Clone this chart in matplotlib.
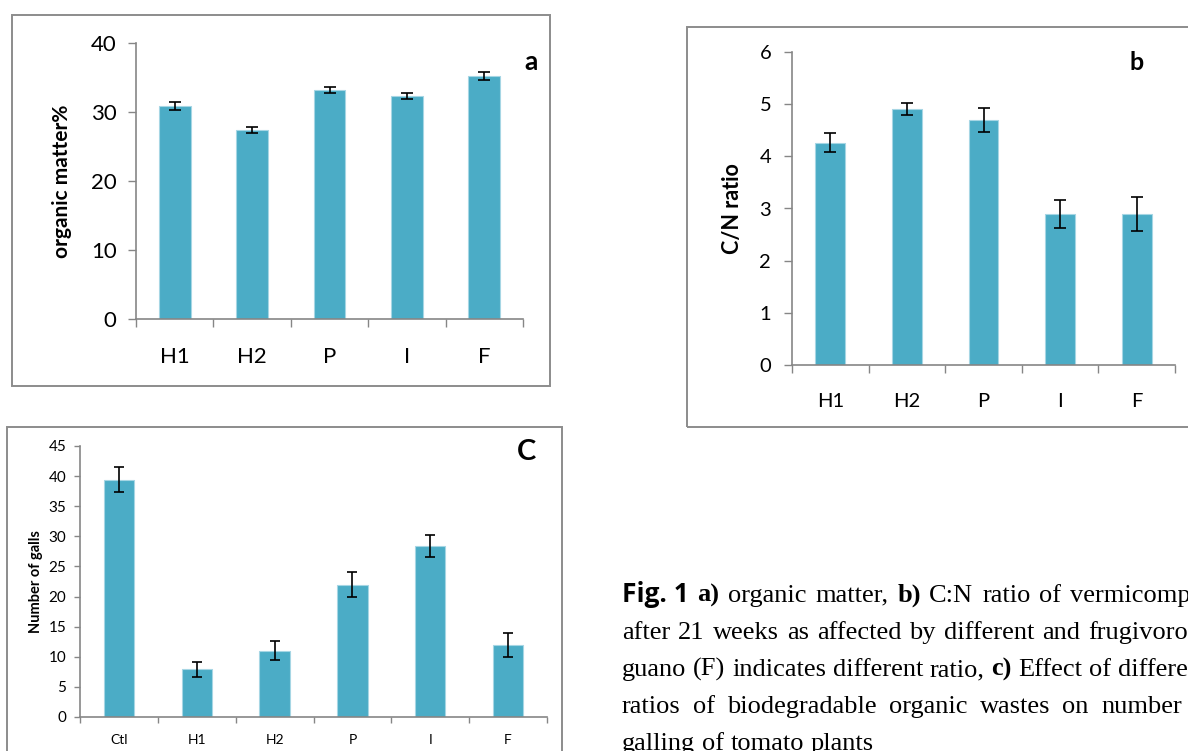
import matplotlib
matplotlib.use("Agg")
import matplotlib.pyplot as plt
from matplotlib.patches import Rectangle
import numpy as np

W, H = 1188, 751

# a) organic matter %
cats_a = ["H1", "H2", "P", "I", "F"]
om = [30.9, 27.4, 33.2, 32.3, 35.2]
om_err = [0.55, 0.4, 0.45, 0.4, 0.55]

# b) C/N ratio
cats_b = ["H1", "H2", "P", "I", "F"]
cn = [4.26, 4.91, 4.69, 2.89, 2.90]
cn_err = [0.18, 0.11, 0.23, 0.27, 0.33]

# c) number of galls
cats_c = ["Ctl", "H1", "H2", "P", "I", "F"]
galls = [39.4, 7.9, 11.0, 22.0, 28.4, 12.0]
galls_err = [2.05, 1.2, 1.55, 2.15, 1.9, 2.0]

BAR = "#4bacc6"
AXIS = "#868686"
FONT = "Lato"

plt.rcParams["font.family"] = [FONT, "DejaVu Sans"]

fig = plt.figure(figsize=(W / 100, H / 100), dpi=100)


def px_axes(x0, y0, x1, y1):
    return fig.add_axes([x0 / W, 1 - y1 / H, (x1 - x0) / W, (y1 - y0) / H])


def frame(x0, y0, x1, y1):
    fig.add_artist(Rectangle((x0 / W, 1 - y1 / H), (x1 - x0) / W, (y1 - y0) / H,
                             transform=fig.transFigure, fill=False,
                             edgecolor="#8c8c8c", lw=1.4))


def bar_panel(ax, cats, vals, errs, ymax, ystep, width, tick_fs, xlab_fs,
              cap, ylabel, ylab_fs, ylab_x, xpad, ypad, tlen):
    x = np.arange(len(cats))
    ax.bar(x, vals, width=width, color=BAR, edgecolor="#a6d6e4", linewidth=0.8, zorder=2)
    ax.errorbar(x, vals, yerr=errs, fmt="none", ecolor="black", elinewidth=1.2,
                capsize=cap, capthick=1.2, zorder=3)
    ax.set_xlim(-0.5, len(cats) - 0.5)
    ax.set_ylim(0, ymax)
    ax.set_yticks(np.arange(0, ymax + ystep / 2, ystep))
    ax.set_xticks(x)
    ax.set_xticklabels(cats, fontsize=xlab_fs)
    ax.set_xticks(np.arange(-0.5, len(cats)), minor=True)
    ax.tick_params(axis="x", which="major", length=0, pad=xpad)
    ax.tick_params(axis="x", which="minor", length=tlen, width=1, color=AXIS, direction="out")
    ax.tick_params(axis="y", length=tlen, width=1, color=AXIS, direction="out",
                   labelsize=tick_fs, pad=ypad)
    for s in ["top", "right"]:
        ax.spines[s].set_visible(False)
    for s in ["left", "bottom"]:
        ax.spines[s].set_color(AXIS)
        ax.spines[s].set_linewidth(1.2)
    ax.set_ylabel(ylabel, fontweight="bold", fontsize=ylab_fs)
    ax.yaxis.set_label_coords(ylab_x, 0.5)
    ax.patch.set_alpha(0)


# frames round the panels
frame(12, 15, 550, 386)
frame(687, 27, 1210, 427)
frame(7, 427, 562, 770)

ax_a = px_axes(136, 43, 523, 319)
bar_panel(ax_a, cats_a, om, om_err, 40, 10, 0.41, 16, 16, 4.5,
          "organic matter%", 15, -0.165, 20, 8, 6)
fig.text(531 / W, 1 - 62 / H, "a", fontsize=19, fontweight="bold", ha="center", va="center")

ax_b = px_axes(792, 52, 1175, 365)
bar_panel(ax_b, cats_b, cn, cn_err, 6, 1, 0.39, 14.5, 14.5, 4.5,
          "C/N ratio", 15.5, -0.128, 20, 9, 6)
fig.text(1137 / W, 1 - 62 / H, "b", fontsize=18, fontweight="bold", ha="center", va="center")

ax_c = px_axes(80, 446, 547, 717)
bar_panel(ax_c, cats_c, galls, galls_err, 45, 5, 0.39, 11, 10, 3.5,
          "Number of galls", 10.5, -0.079, 12, 6, 4)
fig.text(526 / W, 1 - 452 / H, "C", fontsize=21, fontweight="bold", ha="center", va="center")

# caption, word by word, with the spaces stretched as in the justified original
SERIF = "Liberation Serif"
SANS = "Open Sans"
CAP_FS = 19
renderer = fig.canvas.get_renderer()


def text_w(s, fam, wt):
    t1 = fig.text(0, 0, "|" + s + "|", fontsize=CAP_FS, family=fam, weight=wt)
    t2 = fig.text(0, 0, "||", fontsize=CAP_FS, family=fam, weight=wt)
    w = t1.get_window_extent(renderer).width - t2.get_window_extent(renderer).width
    t1.remove()
    t2.remove()
    return w


def line(y, tokens, anchor=None, x_anchor=None, x0=622):
    ws = [text_w(s, f, wt) for s, f, wt in tokens]
    gap = text_w(" ", SERIF, "normal")
    if anchor is not None:
        gap = (x_anchor - x0 - sum(ws[:anchor])) / anchor
    x = x0
    for (s, f, wt), w in zip(tokens, ws):
        fig.text(x / W, 1 - y / H, s, fontsize=CAP_FS, family=f, weight=wt, va="baseline")
        x += w + gap


def words(s, wt="normal", fam=SERIF):
    return [(w, fam, wt) for w in s.split()]


line(602, [("Fig. 1", SANS, "bold")] + words("a)", "bold") + words("organic matter,")
     + words("b)", "bold") + words("C:N ratio of vermicomposts"), anchor=8, x_anchor=1070)
line(639, words("after 21 weeks as affected by different and frugivorous bat"),
     anchor=8, x_anchor=1088)
line(676, words("guano (F) indicates different ratio,") + words("c)", "bold")
     + words("Effect of different"), anchor=8, x_anchor=1118)
line(713, words("ratios of biodegradable organic wastes on number of"),
     anchor=6, x_anchor=1101)
line(750, words("galling of tomato plants"))

fig.savefig("out.png", dpi=100)
